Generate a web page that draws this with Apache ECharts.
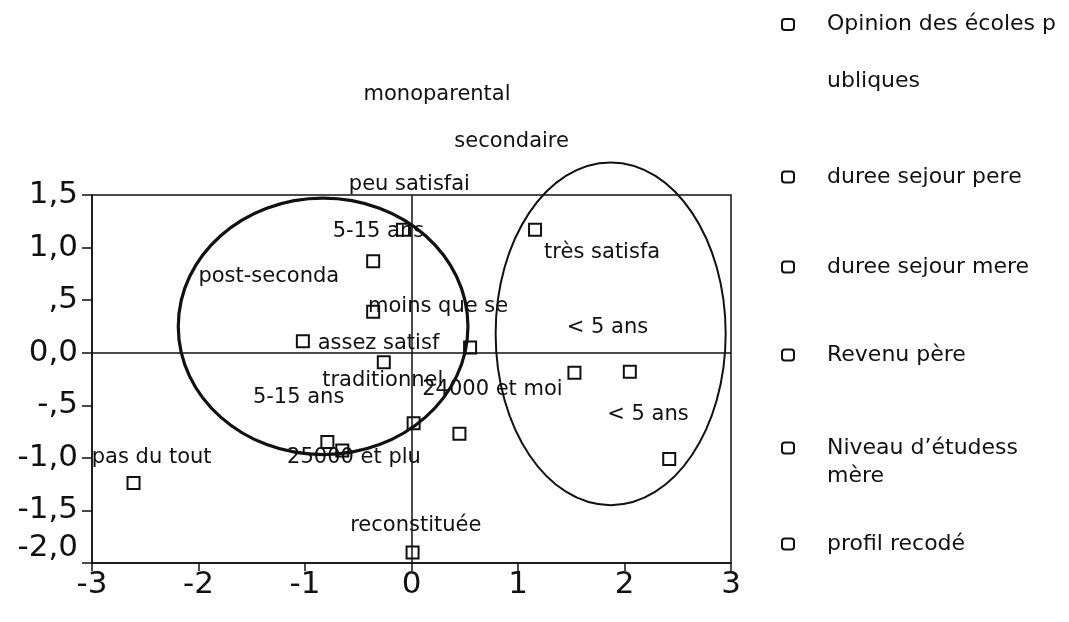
<!DOCTYPE html>
<html>
<head>
<meta charset="utf-8">
<script src="https://cdn.jsdelivr.net/npm/echarts@6/dist/echarts.min.js"></script>
<style>
  html, body { margin: 0; padding: 0; background: #fff; }
  #main { width: 1069px; height: 622px; }
</style>
</head>
<body>
<div id="main"></div>
<script>
// variables (legend order)
var seriesNames = ['Opinion des écoles publiques', 'duree sejour pere', 'duree sejour mere', 'Revenu père', "Niveau d’étudess mère", 'profil recodé'];
var legendText = ['\nOpinion des écoles p\nubliques', 'duree sejour pere', 'duree sejour mere', 'Revenu père', '\nNiveau d’étudess\nmère', 'profil recodé'];

// category points, one small array per variable: [dim1, dim2]
var opinionPts = [[1.16, 1.17], [-1.02, 0.11], [-2.61, -1.24], [-0.08, 1.17]];
var pereDureePts = [[-0.36, 0.87], [2.05, -0.18]];
var mereDureePts = [[-0.79, -0.85], [2.42, -1.01]];
var revenuPts = [[0.45, -0.77], [-0.65, -0.93]];
var niveauPts = [[-0.36, 0.39], [0.55, 0.05], [0.02, -0.67]];
var profilPts = [[-0.26, -0.09], [0.01, -1.9], [1.53, -0.19]];
var pointSets = [opinionPts, pereDureePts, mereDureePts, revenuPts, niveauPts, profilPts];

// category labels (moved by hand in the original), in data units
var labelNames = ['monoparental', 'secondaire', 'peu satisfai', '5-15 ans', 'très satisfa', 'post-seconda',
  'moins que se', '< 5 ans', 'assez satisf', 'traditionnel', '24000 et moi', '5-15 ans',
  '< 5 ans', 'pas du tout', '25000 et plu', 'reconstituée'];
var labelX = [0.24, 0.94, -0.02, -0.31, 1.79, -1.34, 0.25, 1.84, -0.31, -0.27, 0.76, -1.06, 2.22, -2.44, -0.54, 0.04];
var labelY = [2.46, 2.01, 1.60, 1.15, 0.95, 0.72, 0.44, 0.24, 0.09, -0.26, -0.35, -0.43, -0.59, -1.0, -1.0, -1.64];

// hand drawn group ellipses: center and radii in data units
var ellCx = [-0.83, 1.87];
var ellCy = [0.25, 0.18];
var ellRx = [1.36, 1.08];
var ellRy = [1.22, 1.63];

// tick labels
var yTickVals = [1.5, 1.0, 0.5, 0.0, -0.5, -1.0, -1.5, -2.0];
var yTickText = ['1,5', '1,0', ',5', '0,0', '-,5', '-1,0', '-1,5', '-2,0'];
var xTickVals = [-3, -2, -1, 0, 1, 2, 3];
var xTickText = ['-3', '-2', '-1', '0', '1', '2', '3'];

var legendTop = [-61, 164, 254, 342, 406, 531];

var myChart = echarts.init(document.getElementById('main'), null, { renderer: 'canvas' });
var font = 'DejaVu Sans';
var ink = '#111';

var series = [];
seriesNames.forEach(function (name, i) {
  series.push({
    name: name,
    type: 'scatter',
    symbol: 'rect',
    symbolSize: 12,
    itemStyle: { color: 'rgba(255,255,255,0)', borderColor: ink, borderWidth: 2, opacity: 1 },
    data: pointSets[i],
    z: 5
  });
});
// zero reference lines
series[0].markLine = {
  silent: true,
  symbol: 'none',
  label: { show: false },
  lineStyle: { color: ink, width: 1.5, type: 'solid', opacity: 1 },
  data: [{ xAxis: 0 }, { yAxis: 0 }]
};

series.push({
  name: 'labels',
  type: 'scatter',
  symbolSize: 0,
  clip: false,
  silent: true,
  itemStyle: { opacity: 1 },
  data: labelNames.map(function (n, i) { return { name: n, value: [labelX[i], labelY[i]] }; }),
  label: {
    show: true,
    position: 'inside',
    align: 'center',
    verticalAlign: 'middle',
    formatter: '{b}',
    fontFamily: font,
    fontSize: 21,
    color: ink
  },
  z: 4
});

series.push({
  name: 'ellipses',
  type: 'custom',
  silent: true,
  clip: false,
  data: ellCx.map(function (c, i) { return [c, ellCy[i], ellRx[i], ellRy[i]]; }),
  renderItem: function (params, api) {
    var c = api.coord([api.value(0), api.value(1)]);
    var s = api.size([api.value(2), api.value(3)]);
    return {
      type: 'ellipse',
      shape: { cx: c[0], cy: c[1], rx: s[0], ry: s[1] },
      style: { fill: 'none', stroke: ink, lineWidth: params.dataIndex === 0 ? 3.2 : 2 }
    };
  },
  z: 3
});

var legends = seriesNames.map(function (name, i) {
  return {
    data: [name],
    orient: 'vertical',
    left: 781,
    top: legendTop[i],
    padding: 0,
    icon: 'roundRect',
    itemWidth: 12,
    itemHeight: 11,
    selectedMode: false,
    itemStyle: { color: '#fff', borderColor: ink, borderWidth: 2 },
    formatter: function () { return legendText[i]; },
    textStyle: {
      fontFamily: font,
      fontSize: 22,
      color: ink,
      lineHeight: i === 0 ? 57 : (i === 4 ? 28 : 26),
      padding: [0, 0, 0, 28]
    }
  };
});

var option = {
  backgroundColor: '#fff',
  animation: false,
  legend: legends,
  grid: {
    left: 92,
    right: 338,
    top: 195,
    bottom: 59,
    show: true,
    borderColor: ink,
    borderWidth: 1.5,
    backgroundColor: 'transparent'
  },
  xAxis: {
    type: 'value',
    min: -3,
    max: 3,
    interval: 1,
    splitLine: { show: false },
    axisLine: { onZero: false, lineStyle: { color: ink, width: 1.5 } },
    axisTick: { show: true, length: 8, lineStyle: { color: ink, width: 1.5 } },
    axisLabel: {
      margin: 6,
      fontFamily: font,
      fontSize: 31,
      color: ink,
      formatter: function (v) {
        var k = xTickVals.indexOf(Math.round(v));
        return k >= 0 ? xTickText[k] : '';
      }
    }
  },
  yAxis: {
    type: 'value',
    min: -2,
    max: 1.5,
    interval: 0.5,
    splitLine: { show: false },
    axisLine: { onZero: false, lineStyle: { color: ink, width: 1.5 } },
    axisTick: { show: true, length: 10, lineStyle: { color: ink, width: 1.5 } },
    axisLabel: {
      margin: 14,
      fontFamily: font,
      fontSize: 31,
      color: ink,
      formatter: function (v) {
        var k = -1;
        yTickVals.forEach(function (t, j) { if (Math.abs(t - v) < 1e-6) k = j; });
        if (k < 0) return '';
        // SPSS pushed the bottom label up
        return k === yTickVals.length - 1 ? '{lo|' + yTickText[k] + '}' : yTickText[k];
      },
      rich: {
        lo: { fontFamily: font, fontSize: 31, color: ink, padding: [0, 0, 30, 0] }
      }
    }
  },
  series: series
};

myChart.setOption(option);
</script>
</body>
</html>
